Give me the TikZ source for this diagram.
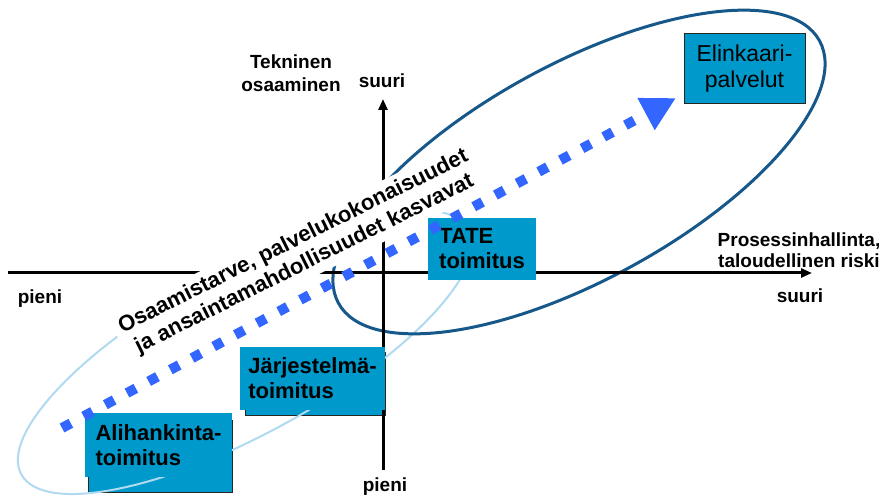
\documentclass[tikz,border=0pt]{standalone}
\usepackage{fontspec}
\setmainfont{Liberation Sans}
\usetikzlibrary{arrows.meta, positioning, shapes.geometric}

\definecolor{boxblue}{RGB}{0,153,204}
\definecolor{ringdark}{RGB}{22,88,138}
\definecolor{ringlight}{RGB}{175,218,240}
\definecolor{dotblue}{RGB}{51,102,255}

\begin{document}
\begin{tikzpicture}[
    x=1pt, y=-1pt,
    font=\fontsize{19}{23}\selectfont\bfseries,
    tbox/.style={fill=boxblue, inner sep=0pt, align=left,
                 font=\fontsize{22}{25}\selectfont\bfseries},
    backbox/.style={fill=boxblue, draw=black!85, line width=1pt, inner sep=0pt},
    lbl/.style={inner sep=0pt, align=center},
    ring/.style={draw, ellipse, inner sep=0pt},
    axis/.style={line width=3pt, -{Triangle[length=11pt, width=9pt]}},
    growth/.style={line width=10pt, draw=dotblue, dash pattern=on 10pt off 14.6pt,
                   -{Triangle[length=34pt, width=34pt]}},
]
    \useasboundingbox (0,0) rectangle (887,497);

    %==================== BACK BOXES ====================
    \node[backbox, minimum width=140pt, minimum height=63pt] (jarjback) at (315,383.5) {};
    \node[backbox, minimum width=144pt, minimum height=72pt] (alihback) at (160,456) {};

    %==================== RINGS ====================
    \node[ring, draw=ringlight, line width=2pt, minimum width=510pt, minimum height=164pt,
          rotate=28.7] (small) at (245,352) {};
    \node[ring, draw=ringdark, line width=3pt, minimum width=548pt, minimum height=216pt,
          rotate=28.6] (big) at (579,172) {};

    %==================== AXES ====================
    \coordinate (xstart) at (8,273);
    \coordinate (xend) at (812,273);
    \coordinate (ystart) at (383,470);
    \coordinate (yend) at (383,99);
    \draw[axis] (xstart) -- (xend);
    \draw[axis] (ystart) -- (yend);

    %==================== GROWTH TEXT ====================
    \node[fill=white, inner xsep=6pt, inner ysep=5pt, align=center, rotate=26.5,
          font=\fontsize{22}{25}\selectfont\bfseries] (band) at (299,253)
        {Osaamistarve, palvelukokonaisuudet\\ja ansaintamahdollisuudet kasvavat};

    %==================== BOXES ====================
    \node[tbox, minimum width=147pt, minimum height=64pt] (alih) at (158.5,445)
        {Alihankinta-\\toimitus};
    \node[tbox, minimum width=145pt, minimum height=63pt] (jarj) at (312.5,378.5)
        {Järjestelmä-\\toimitus};
    \node[tbox, minimum width=108pt, minimum height=62pt] (tate) at (482,249)
        {TATE\\toimitus};
    \node[tbox, draw=black!85, line width=1pt, align=center, minimum width=121pt,
          minimum height=70pt, font=\fontsize{23}{26}\selectfont] (elink) at (744.5,69)
        {Elinkaari-\\palvelut};

    %==================== GROWTH ARROW ====================
    \coordinate (gstart) at (62,428);
    \coordinate (gtip) at (676,98);
    \draw[growth] (gstart) -- (gtip);

    %==================== LABELS ====================
    \node[lbl] (tekn) at (291,73) {Tekninen\\osaaminen};
    \node[lbl] (ytop) at (382,81) {suuri};
    \node[lbl] (ybot) at (385,487) {pieni};
    \node[lbl] (xleft) at (40,299) {pieni};
    \node[lbl] (xright) at (800,296) {suuri};
    \node[lbl, font=\fontsize{19}{21}\selectfont\bfseries] (proc) at (799,250)
        {Prosessinhallinta,\\taloudellinen riski};

\end{tikzpicture}
\end{document}
